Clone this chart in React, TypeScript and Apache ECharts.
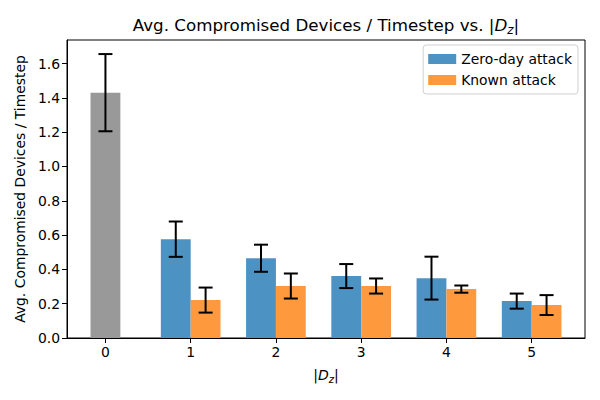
import React, { useEffect, useRef } from "react";
import * as echarts from "echarts";

const categories = [0, 1, 2, 3, 4, 5];
const baselineX = [0];
const baselineValues = [1.43];
const baselineErrors = [0.225];
const attackX = [1, 2, 3, 4, 5];
const zeroDayValues = [0.576, 0.465, 0.361, 0.349, 0.215];
const zeroDayErrors = [0.103, 0.079, 0.07, 0.125, 0.044];
const knownValues = [0.221, 0.303, 0.303, 0.285, 0.192];
const knownErrors = [0.073, 0.073, 0.044, 0.021, 0.058];
const yTicks = [0, 0.2, 0.4, 0.6, 0.8, 1.0, 1.2, 1.4, 1.6];

const BAR_W = 0.35;
const FONT = "DejaVu Sans";

function barRender(params: any, api: any) {
  const x = api.value(0);
  const v = api.value(1);
  const p0 = api.coord([x - BAR_W / 2, v]);
  const p1 = api.coord([x + BAR_W / 2, 0]);
  return {
    type: "rect",
    shape: { x: p0[0], y: p0[1], width: p1[0] - p0[0], height: p1[1] - p0[1] },
    style: { fill: api.visual("color") },
  };
}

function errRender(params: any, api: any) {
  const x = api.value(0);
  const v = api.value(1);
  const e = api.value(2);
  const top = api.coord([x, v + e]);
  const bot = api.coord([x, v - e]);
  const cap = 7;
  const st = { stroke: "#000", lineWidth: 2, fill: "none" };
  return {
    type: "group",
    children: [
      { type: "line", shape: { x1: top[0], y1: top[1], x2: bot[0], y2: bot[1] }, style: st },
      { type: "line", shape: { x1: top[0] - cap, y1: top[1], x2: top[0] + cap, y2: top[1] }, style: st },
      { type: "line", shape: { x1: bot[0] - cap, y1: bot[1], x2: bot[0] + cap, y2: bot[1] }, style: st },
    ],
  };
}

export default function App() {
  const ref = useRef<HTMLDivElement>(null);
  useEffect(() => {
    if (!ref.current) return;
    const chart = echarts.init(ref.current, undefined, { renderer: "svg" });
    const baseData = baselineX.map((x, i) => [x, baselineValues[i], baselineErrors[i]]);
    const zdData = attackX.map((x, i) => [x - BAR_W / 2, zeroDayValues[i], zeroDayErrors[i]]);
    const knData = attackX.map((x, i) => [x + BAR_W / 2, knownValues[i], knownErrors[i]]);
    const errData = [...baseData, ...zdData, ...knData];
    const subRich = {
      i: { fontFamily: FONT, fontStyle: "italic", fontSize: 14, color: "#000" },
      s: { fontFamily: FONT, fontStyle: "italic", fontSize: 10, color: "#000", padding: [8, 0, 0, 0] },
      n: { fontFamily: FONT, fontSize: 14, color: "#000" },
    };
    chart.setOption({
      animation: false,
      backgroundColor: "#fff",
      textStyle: { fontFamily: FONT },
      graphic: [
        {
          type: "text",
          x: 326,
          y: 25,
          style: {
            text: "{n|Avg. Compromised Devices / Timestep vs. |}{i|D}{s|z}{n||}",
            align: "center",
            verticalAlign: "middle",
            rich: {
              n: { fontFamily: FONT, fontSize: 16.7, color: "#000" },
              i: { fontFamily: FONT, fontStyle: "italic", fontSize: 16.7, color: "#000" },
              s: { fontFamily: FONT, fontStyle: "italic", fontSize: 12, color: "#000", padding: [10, 0, 0, 0] },
            },
          },
        },
      ],
      grid: {
        left: 67,
        right: 15,
        top: 40,
        bottom: 62,
        show: true,
        borderColor: "#000",
        borderWidth: 1,
        backgroundColor: "transparent",
      },
      legend: {
        orient: "vertical",
        right: 22,
        top: 45,
        data: ["Zero-day attack", "Known attack"],
        icon: "rect",
        itemWidth: 28,
        itemHeight: 10,
        itemGap: 5,
        padding: [6, 6, 6, 5],
        borderColor: "#d0d0d0",
        borderWidth: 1,
        borderRadius: 3,
        backgroundColor: "#fff",
        textStyle: { fontFamily: FONT, fontSize: 13.9, color: "#000", lineHeight: 16 },
      },
      xAxis: {
        type: "value",
        min: -0.451,
        max: 5.626,
        name: "{n||}{i|D}{s|z}{n||}",
        nameLocation: "middle",
        nameGap: 28,
        nameTextStyle: { rich: subRich },
        splitLine: { show: false },
        axisLine: { show: true, onZero: false, lineStyle: { color: "#000", width: 1 } },
        axisTick: { show: true, inside: false, length: 5, customValues: categories, lineStyle: { color: "#000" } },
        axisLabel: {
          customValues: categories,
          fontFamily: FONT,
          fontSize: 13.9,
          color: "#000",
          margin: 7,
          formatter: (v: number) => String(v),
        },
      },
      yAxis: {
        type: "value",
        min: 0,
        max: 1.737,
        name: "Avg. Compromised Devices / Timestep",
        nameLocation: "middle",
        nameGap: 40,
        nameRotate: 90,
        nameTextStyle: { fontFamily: FONT, fontSize: 13.9, color: "#000" },
        splitLine: { show: false },
        axisLine: { show: true, onZero: false, lineStyle: { color: "#000", width: 1 } },
        axisTick: { show: true, inside: false, length: 5, customValues: yTicks, lineStyle: { color: "#000" } },
        axisLabel: {
          customValues: yTicks,
          fontFamily: FONT,
          fontSize: 13.9,
          color: "#000",
          margin: 7,
          formatter: (v: number) => v.toFixed(1),
        },
      },
      series: [
        {
          name: "Baseline",
          type: "custom",
          renderItem: barRender,
          itemStyle: { color: "#999999" },
          encode: { x: 0, y: 1 },
          data: baseData,
          z: 2,
        },
        {
          name: "Zero-day attack",
          type: "custom",
          renderItem: barRender,
          itemStyle: { color: "#4c92c3" },
          encode: { x: 0, y: 1 },
          data: zdData,
          z: 2,
        },
        {
          name: "Known attack",
          type: "custom",
          renderItem: barRender,
          itemStyle: { color: "#ff993e" },
          encode: { x: 0, y: 1 },
          data: knData,
          z: 2,
        },
        {
          name: "errors",
          type: "custom",
          renderItem: errRender,
          dimensions: ["x", "y", "err"],
          encode: { x: 0, y: 1 },
          data: errData,
          z: 5,
        },
      ],
    });
    return () => chart.dispose();
  }, []);
  return <div ref={ref} style={{ width: 600, height: 400, position: "absolute", left: 0, top: 0 }} />;
}
